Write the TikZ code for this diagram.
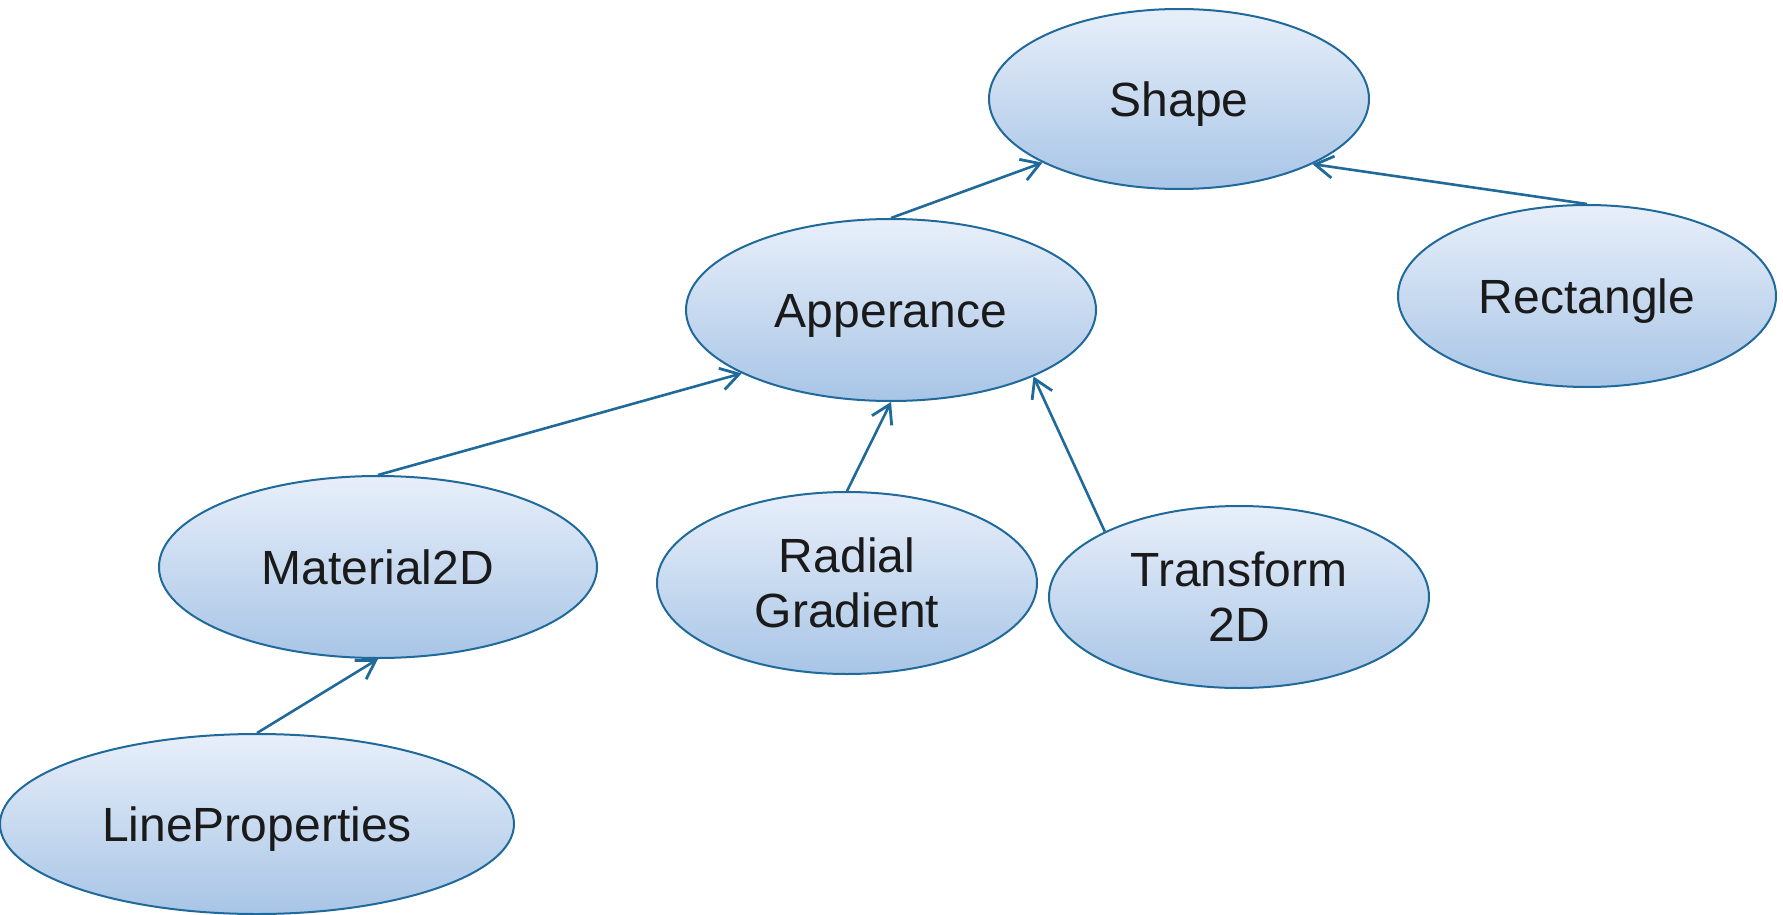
\documentclass[tikz,border=0pt]{standalone}
\usepackage{fontspec}
\setmainfont{Liberation Sans}
\usetikzlibrary{shapes.geometric,arrows.meta}
\definecolor{cborder}{HTML}{1F6A9A}
\definecolor{ctop}{HTML}{E8EFFA}
\definecolor{cbot}{HTML}{A8C5E6}
\definecolor{ctext}{HTML}{1A1A1A}
\tikzset{
  oval/.style={ellipse, draw=cborder, line width=1pt, top color=ctop, bottom color=cbot,
    inner sep=0pt, align=center, text=ctext, font=\fontsize{24}{28.5}\selectfont},
  oneline/.style={text height=17.2pt, text depth=0pt},
  link/.style={draw=cborder, line width=1.3pt, -{Straight Barb[length=9pt,width=11pt,line width=1.4pt]}}
}
\begin{document}
\begin{tikzpicture}[x=0.5pt,y=-0.5pt]
\useasboundingbox (0,0) rectangle (1783,915);
\node[oval, oneline, minimum width=190pt, minimum height=90pt] (shape) at (1179,99) {Shape};
\node[oval, oneline, minimum width=189pt, minimum height=91pt] (rect) at (1587,296) {Rectangle};
\node[oval, oneline, minimum width=205pt, minimum height=91pt] (app) at (891,310) {Apperance};
\node[oval, oneline, minimum width=219pt, minimum height=91pt] (mat) at (378,567) {Material2D};
\node[oval, minimum width=190pt, minimum height=91pt] (rad) at (847,583) {\raisebox{-1pt}{Radial}\\Gradient};
\node[oval, minimum width=190pt, minimum height=91pt] (tr) at (1239,597) {\raisebox{-1pt}{Transform}\\2D};
\node[oval, oneline, minimum width=257pt, minimum height=90pt] (line) at (257,824) {LineProperties};
\draw[link] (app.north) -- (shape.205.4);
\draw[link] (rect.north) -- (shape.334.5);
\draw[link] (mat.north) -- (app.203.6);
\draw[link] (rad.north) -- (app.south);
\draw[link] (tr.154.1) -- (app.335.8);
\draw[link] (line.north) -- (mat.south);
\end{tikzpicture}
\end{document}
